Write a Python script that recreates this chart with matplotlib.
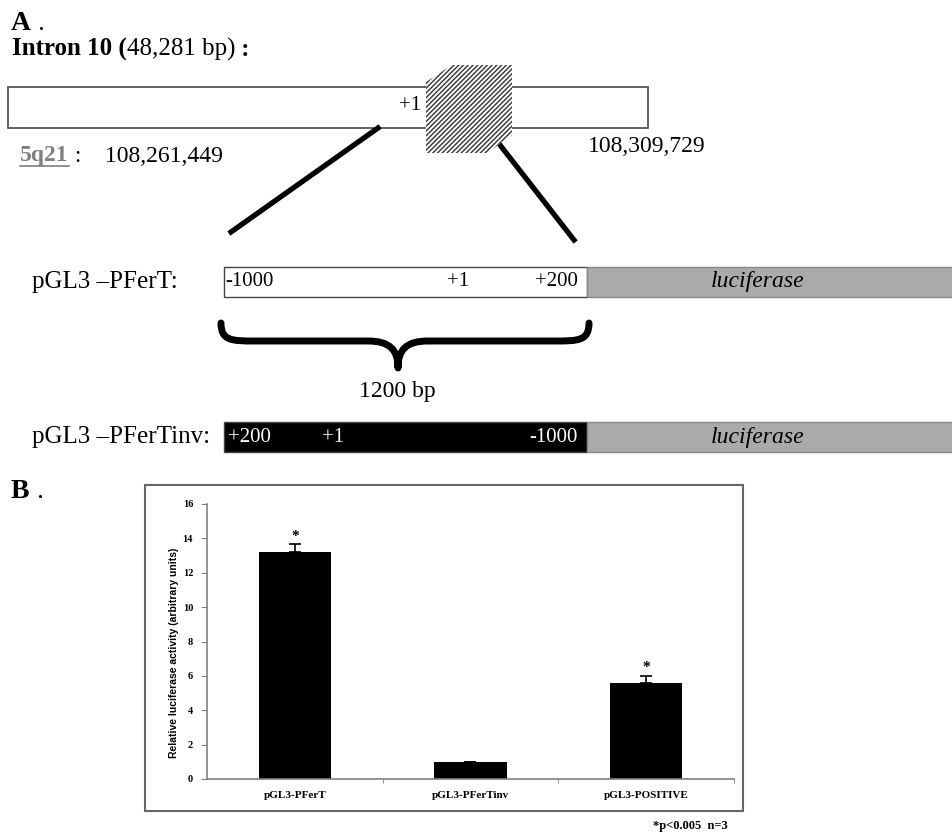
import numpy as np
import matplotlib
matplotlib.use('Agg')
import matplotlib.pyplot as plt
from matplotlib.patches import Rectangle, Polygon, PathPatch
from matplotlib.path import Path

# luciferase assay results (panel B)
constructs = ['pGL3-PFerT', 'pGL3-PFerTinv', 'pGL3-POSITIVE']
activity = [13.2, 1.0, 5.6]
activity_err = [0.45, 0.0, 0.4]
significant = [True, False, True]
yticks = [0, 2, 4, 6, 8, 10, 12, 14, 16]

# genomic coordinates of intron 10 (panel A)
intron_len = '48,281 bp'
locus = '5q21'
intron_start = '108,261,449'
intron_end = '108,309,729'
fert_marks = ['-1000', '+1', '+200']
inv_marks = ['+200', '+1', '-1000']
insert_len = '1200 bp'

SERIF = 'Liberation Serif'
SANS = 'Liberation Sans'
W, H = 953, 836


def chain(ax, pieces, x, y, size):
    # write consecutive text runs with different weights/colours on one line
    s, w, c = pieces[0]
    t = ax.text(x, y, s, fontsize=size, fontweight=w, color=c,
                family=SERIF, ha='left', va='center')
    for s, w, c in pieces[1:]:
        t = ax.annotate(s, xy=(1, 0), xycoords=t, ha='left', va='bottom',
                        fontsize=size, fontweight=w, color=c, family=SERIF)
    return t


def construct_row(ax, y, label, marks, mark_x, insert_color, text_color):
    ax.text(32, y, label, fontsize=18, family=SERIF, ha='left', va='center')
    ax.add_patch(Rectangle((224, y - 15), 363, 30, facecolor=insert_color,
                           edgecolor='#444444', lw=1.0))
    ax.add_patch(Rectangle((587, y - 15), 366, 30, facecolor='#aaaaaa',
                           edgecolor='#888888', lw=1.0))
    for m, mx in zip(marks, mark_x):
        ax.text(mx, y, m, fontsize=15, family=SERIF, color=text_color,
                ha='left', va='center')
    ax.text(758, y, 'luciferase', fontsize=17, family=SERIF, style='italic',
            ha='center', va='center')


fig = plt.figure(figsize=(W / 100, H / 100), dpi=100)
ax0 = fig.add_axes([0, 0, 1, 1])
ax0.set_xlim(0, W)
ax0.set_ylim(H, 0)
ax0.axis('off')

# ---------------- panel A ----------------
chain(ax0, [('A', 'bold', 'k'), (' .', 'normal', 'k')], 11, 24, 20)
chain(ax0, [('Intron 10 (', 'bold', 'k'), (intron_len + ')', 'normal', 'k'),
            (' :', 'bold', 'k')], 12, 49, 18)

ax0.add_patch(Rectangle((8, 87), 640, 41, facecolor='white',
                        edgecolor='#555555', lw=1.3, zorder=2))
ax0.text(399, 105, '+1', fontsize=15, family=SERIF, ha='left', va='center',
         zorder=3)
plt.rcParams['hatch.linewidth'] = 1.0
ax0.add_patch(Polygon([(426, 82), (452, 65), (512, 65), (512, 135),
                       (487, 153), (426, 153)], closed=True,
                      facecolor='white', edgecolor='#333333', lw=0,
                      hatch='///////', zorder=4))

ax0.plot([378, 231], [128, 232], color='k', lw=3.8, zorder=3)
ax0.plot([500, 574], [145, 240], color='k', lw=3.8, zorder=3)

chain(ax0, [(locus, 'bold', '#808080'), (' :    ' + intron_start, 'normal', 'k')],
      20, 156, 17)
ax0.plot([20, 69], [166, 166], color='#808080', lw=1.2)
ax0.text(588, 147, intron_end, fontsize=17, family=SERIF, ha='left', va='center')

construct_row(ax0, 282, 'pGL3 \u2013PFerT:', fert_marks, [225, 447, 535],
              'white', 'k')
construct_row(ax0, 437, 'pGL3 \u2013PFerTinv:', inv_marks, [228, 322, 529],
              'black', 'white')

# curly brace spanning the 1200 bp insert
verts = [(221, 323), (221, 341), (232, 341), (255, 341),
         (368, 341),
         (390, 341), (398, 350), (398, 368),
         (398, 350), (406, 341), (428, 341),
         (555, 341),
         (578, 341), (589, 341), (589, 323)]
codes = [Path.MOVETO, Path.CURVE4, Path.CURVE4, Path.CURVE4,
         Path.LINETO,
         Path.CURVE4, Path.CURVE4, Path.CURVE4,
         Path.CURVE4, Path.CURVE4, Path.CURVE4,
         Path.LINETO,
         Path.CURVE4, Path.CURVE4, Path.CURVE4]
ax0.add_patch(PathPatch(Path(verts, codes), facecolor='none', edgecolor='k',
                        lw=5, capstyle='round', joinstyle='round'))
ax0.text(397, 392, insert_len, fontsize=17, family=SERIF, ha='center',
         va='center')

# ---------------- panel B ----------------
chain(ax0, [('B', 'bold', 'k'), (' .', 'normal', 'k')], 11, 492, 20)
ax0.add_patch(Rectangle((145, 485), 598, 326, fill=False,
                        edgecolor='#666666', lw=1.5))

ax = fig.add_axes([207 / W, 1 - 779 / H, 527 / W, 275 / H])
ax.patch.set_alpha(0)
x = np.arange(len(constructs))
ax.bar(x, activity, width=0.41, color='black',
       yerr=[np.zeros(len(x)), activity_err],
       error_kw=dict(ecolor='black', elinewidth=1.2, capsize=4, capthick=1.2))
for i in range(len(x)):
    if significant[i]:
        ax.annotate('*', (x[i], activity[i] + activity_err[i]),
                    xytext=(0, 1), textcoords='offset points', ha='center',
                    va='bottom', fontsize=11, fontweight='bold', family=SERIF)

ax.set_xlim(-0.5, 2.5)
ax.set_ylim(0, 16)
ax.set_yticks(yticks)
ax.set_yticklabels([str(v) for v in yticks], fontsize=7.5, fontweight='bold',
                   family=SERIF)
ax.set_xticks(x)
ax.set_xticklabels(constructs, fontsize=8, fontweight='bold', family=SERIF)
ax.set_xticks([0.5, 1.5, 2.5], minor=True)
ax.tick_params(axis='x', which='major', length=0, pad=9)
ax.tick_params(axis='x', which='minor', length=3, direction='out',
               color='#808080')
ax.tick_params(axis='y', length=4, direction='out', color='#808080', pad=6)
for side in ['top', 'right']:
    ax.spines[side].set_visible(False)
for side in ['left', 'bottom']:
    ax.spines[side].set_color('#808080')
    ax.spines[side].set_linewidth(1.2)
ax.set_ylabel('Relative luciferase activity (arbitrary units)', fontsize=7.5,
              fontweight='bold', family=SANS)
ax.yaxis.set_label_coords(-0.054, 0.46)

ax0.text(653, 826, '*p<0.005  n=3', fontsize=9, fontweight='bold',
         family=SERIF, ha='left', va='center')

fig.savefig('out.png', dpi=100)
